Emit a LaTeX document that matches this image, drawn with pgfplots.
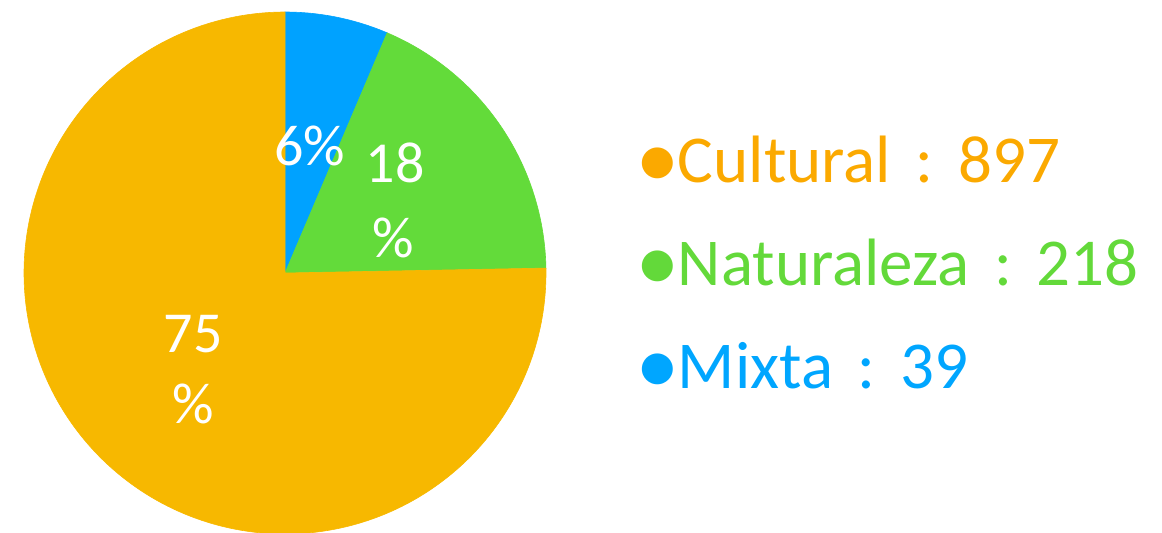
\documentclass[border=0pt]{standalone}
\usepackage{pgfplots}
\pgfplotsset{compat=1.18}
\usepackage{fontspec}
\setmainfont{Carlito}
\definecolor{pieorange}{HTML}{F7B800}
\definecolor{piegreen}{HTML}{63DB3A}
\definecolor{pieblue}{HTML}{00A2FF}
\definecolor{txtorange}{HTML}{FBA900}
\definecolor{txtgreen}{HTML}{63D93A}
\definecolor{txtblue}{HTML}{00A6FF}
% shares of the pie as drawn (percent)
\def\shareCultural{75.3}
\def\shareNaturaleza{18.3}
\def\shareMixta{6.4}
\begin{document}
\begin{tikzpicture}
\pgfmathsetmacro{\aA}{90}
\pgfmathsetmacro{\aB}{90-\shareMixta*3.6}
\pgfmathsetmacro{\aC}{\aB-\shareNaturaleza*3.6}
\pgfmathsetmacro{\aD}{\aC-\shareCultural*3.6}
\begin{axis}[name=ax, scale only axis, width=581pt, height=266pt,
  xmin=0, xmax=1162, ymin=0, ymax=532, hide axis, clip=true]
\addplot[fill=pieblue, draw=pieblue, line width=0.3pt, domain=\aB:\aA, samples=60]
  ({285+261*cos(x)},{259+261*sin(x)}) -- (285,259) -- cycle;
\addplot[fill=piegreen, draw=piegreen, line width=0.3pt, domain=\aC:\aB, samples=100]
  ({285+261*cos(x)},{259+261*sin(x)}) -- (285,259) -- cycle;
\addplot[fill=pieorange, draw=pieorange, line width=0.3pt, domain=\aD:\aC, samples=300]
  ({285+261*cos(x)},{259+261*sin(x)}) -- (285,259) -- cycle;
\begin{scope}[every node/.style={text=white, font=\fontsize{29pt}{34pt}\selectfont, anchor=base, inner sep=0pt}]
\node at (axis cs:310,367) {6\%};
\node at (axis cs:395,350) {18};
\node at (axis cs:393,275) {\%};
\node at (axis cs:193,180) {75};
\node at (axis cs:193,109) {\%};
\end{scope}
\begin{scope}[every node/.style={font=\fontsize{33.5pt}{40pt}\selectfont, anchor=base west, inner sep=0pt}]
\node[text=txtorange] at (axis cs:637,350) {●Cultural\makebox[1em][c]{:}897};
\node[text=txtgreen] at (axis cs:637,247) {●Naturaleza\makebox[1em][c]{:}218};
\node[text=txtblue] at (axis cs:637,144) {●Mixta\makebox[1em][c]{:}39};
\end{scope}
\end{axis}
\pgfresetboundingbox
\path[use as bounding box] (ax.south west) rectangle (ax.north east);
\end{tikzpicture}
\end{document}
